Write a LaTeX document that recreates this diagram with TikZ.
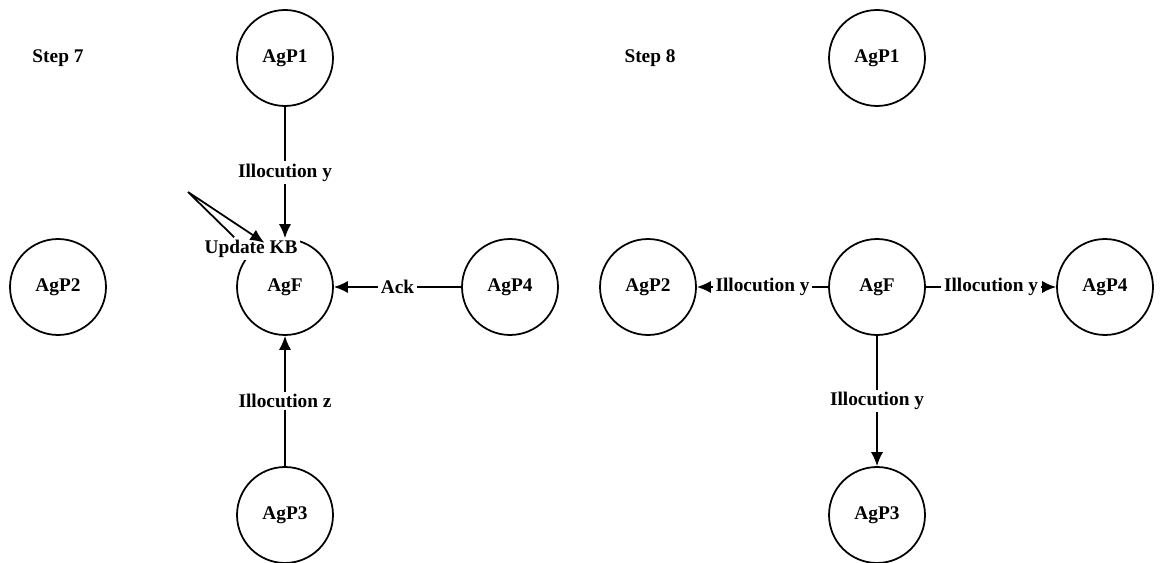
\documentclass[tikz,border=0pt]{standalone}
\usepackage{fontspec}
\setmainfont{Liberation Serif}
\usetikzlibrary{arrows.meta}
\tikzset{agent/.style={draw,circle,minimum size=1.92cm,inner sep=0pt,line width=1pt,font=\fontsize{11}{13}\selectfont\bfseries},
  lbl/.style={fill=white,inner sep=1.5pt,font=\fontsize{11}{13}\selectfont\bfseries},
  msg/.style={-{Latex[length=8pt,width=7pt]},line width=1pt}}

\begin{document}
\begin{tikzpicture}[x=0.02cm,y=-0.02cm]%
        \useasboundingbox (0,0) rectangle (1162,563);%%
        % step 7
        \node[font=\fontsize{11}{13}\selectfont\bfseries] (s7) at (58,58) {Step 7}; %%
        \node[agent] (p1a) at (285,58) {AgP1}; %%
        \node[agent] (p2a) at (58,287) {AgP2}; %%
        \node[agent] (fa) at (285,287) {AgF}; %%
        \node[agent] (p4a) at (510,287) {AgP4}; %%
        \node[agent] (p3a) at (285,515) {AgP3}; %%
        \draw[msg] (p1a)--(fa) node[lbl,midway] {Illocution y}; %%
        \draw[msg] (p4a)--(fa) node[lbl,midway] {Ack}; %%
        \draw[msg] (p3a)--(fa) node[lbl,midway] {Illocution z}; %%
        \node[lbl] (kb) at (251,249) {Update KB}; %%
        \coordinate (kbc) at (188,192); %%
        \draw[msg] (kb.145)--(kbc)--(fa.115); %%
        % step 8
        \node[font=\fontsize{11}{13}\selectfont\bfseries] (s8) at (650,58) {Step 8}; %%
        \node[agent] (p1b) at (877,58) {AgP1}; %%
        \node[agent] (p2b) at (648,287) {AgP2}; %%
        \node[agent] (fb) at (877,287) {AgF}; %%
        \node[agent] (p4b) at (1105,287) {AgP4}; %%
        \node[agent] (p3b) at (877,515) {AgP3}; %%
        \draw[msg] (fb)--(p2b) node[lbl,midway] {Illocution y}; %%
        \draw[msg] (fb)--(p4b) node[lbl,midway] {Illocution y}; %%
        \draw[msg] (fb)--(p3b) node[lbl,midway] {Illocution y}; %%
\end{tikzpicture}
\end{document}
